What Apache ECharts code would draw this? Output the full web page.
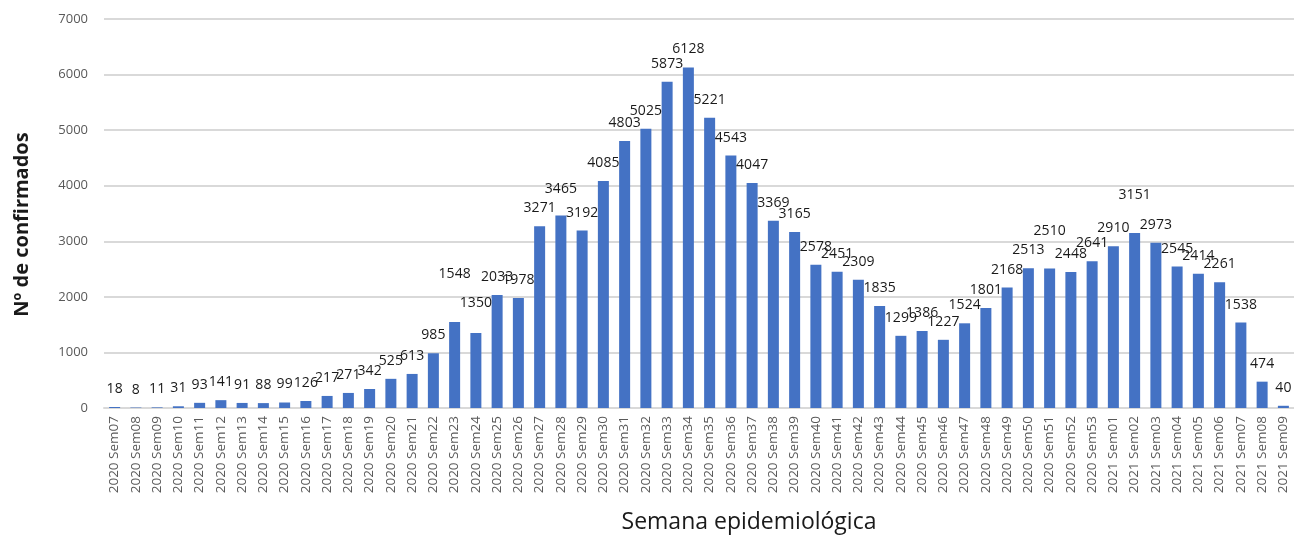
<!DOCTYPE html>
<html>

<head>
	<meta charset="utf-8">
	<title>Confirmados por semana epidemiológica</title>
	<script src="https://cdn.jsdelivr.net/npm/echarts@6/dist/echarts.min.js"></script>
	<style>
		html, body { margin: 0; padding: 0; background: #fff; }
	</style>
</head>

<body>
	<div id="main" style="width: 1294px;height:539px;"></div>
	<script type="text/javascript">
	var weeks2020 = [];
	for (var w = 7; w <= 53; w++) weeks2020.push('2020 Sem' + (w < 10 ? '0' + w : w));
	var weeks2021 = ['2021 Sem01', '2021 Sem02', '2021 Sem03', '2021 Sem04', '2021 Sem05',
		'2021 Sem06', '2021 Sem07', '2021 Sem08', '2021 Sem09'];
	var categories = weeks2020.concat(weeks2021);

	var confirmados = [
		18, 8, 11, 31, 93, 141, 91, 88, 99, 126,
		217, 271, 342, 525, 613, 985, 1548, 1350, 2033, 1978,
		3271, 3465, 3192, 4085, 4803, 5025, 5873, 6128, 5221, 4543,
		4047, 3369, 3165, 2578, 2451, 2309, 1835, 1299, 1386, 1227,
		1524, 1801, 2168, 2513, 2510, 2448, 2641, 2910, 3151, 2973,
		2545, 2414, 2261, 1538, 474, 40
	];

	// etiquetas que o Excel deslocou para cima
	var labelLift = {
		'2020 Sem23': 30,
		'2020 Sem24': 12,
		'2020 Sem28': 8,
		'2020 Sem51': 20,
		'2021 Sem02': 20
	};

	var myChart = echarts.init(document.getElementById('main'));

	var seriesData = confirmados.map(function(v, i) {
		var item = { value: v };
		var lift = labelLift[categories[i]];
		if (lift) item.label = { distance: 11 + lift };
		return item;
	});

	var option = {
		animation: false,
		textStyle: { fontFamily: 'Open Sans' },
		grid: {
			left: 104,
			top: 19,
			width: 1196,
			bottom: 129
		},
		xAxis: {
			type: 'category',
			data: categories,
			name: 'Semana epidemiológica',
			nameLocation: 'middle',
			nameGap: 103,
			nameTextStyle: {
				fontSize: 23,
				color: '#1a1a1a',
				padding: [0, 0, 0, 100]
			},
			axisLine: { lineStyle: { color: '#d9d9d9', width: 2 } },
			axisTick: { show: false },
			axisLabel: {
				interval: 0,
				rotate: 90,
				fontSize: 13.5,
				color: '#595959',
				margin: 8
			}
		},
		yAxis: {
			type: 'value',
			min: 0,
			max: 7000,
			interval: 1000,
			name: 'Nº de confirmados',
			nameLocation: 'middle',
			nameGap: 72,
			nameTextStyle: {
				fontSize: 20,
				fontWeight: 'bold',
				color: '#1a1a1a',
				padding: [0, 22, 0, 0]
			},
			axisLine: { show: false },
			axisTick: { show: false },
			axisLabel: {
				fontSize: 13,
				color: '#595959',
				margin: 16,
				formatter: function(v) { return String(v); }
			},
			splitLine: { lineStyle: { color: '#d9d9d9', width: 2 } }
		},
		series: [{
			name: 'Confirmados',
			type: 'bar',
			barWidth: 11,
			itemStyle: { color: '#4472c4' },
			label: {
				show: true,
				position: 'top',
				distance: 11,
				fontSize: 14,
				color: '#1a1a1a'
			},
			data: seriesData
		}]
	};

	myChart.setOption(option);
	</script>
</body>

</html>
